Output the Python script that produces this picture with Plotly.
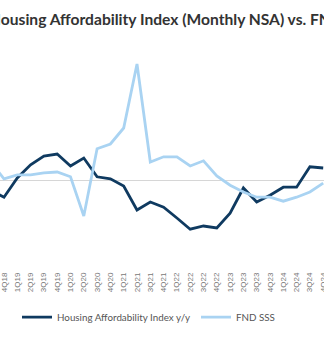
import plotly.graph_objects as go

# Quarter labels (3Q18 and 4Q24 sit at the edges of the visible window)
quarters = ["3Q18", "4Q18",
            "1Q19", "2Q19", "3Q19", "4Q19",
            "1Q20", "2Q20", "3Q20", "4Q20",
            "1Q21", "2Q21", "3Q21", "4Q21",
            "1Q22", "2Q22", "3Q22", "4Q22",
            "1Q23", "2Q23", "3Q23", "4Q23",
            "1Q24", "2Q24", "3Q24", "4Q24"]

# Housing Affordability Index, y/y change (%)
hai_yy = [-2.5, -4.3,
          0.5, 3.8, 6.0, 6.5,
          3.5, 5.5, 0.8, 0.3,
          -1.5, -7.5, -5.5, -6.8,
          -9.5, -12.3, -11.5, -12.0,
          -8.3, -2.0, -5.5, -3.8,
          -1.8, -1.8, 3.3, 3.0]

# FND same-store sales (%)
fnd_sss = [4.5, 0.3,
           1.3, 1.3, 1.8, 2.0,
           0.8, -9.0, 7.8, 9.0,
           13.0, 29.0, 4.5, 5.8,
           5.8, 3.5, 4.8, 1.0,
           -1.3, -3.0, -4.3, -4.3,
           -5.3, -4.3, -3.0, -0.8]

xpos = list(range(-1, len(quarters) - 1))

DARK = "#0f3a60"
LIGHT = "#a9d3f2"

fig = go.Figure()
fig.add_trace(go.Scatter(x=xpos, y=hai_yy, mode="lines",
                         name="Housing Affordability Index y/y",
                         line=dict(color=DARK, width=2.8), legend="legend"))
fig.add_trace(go.Scatter(x=xpos, y=fnd_sss, mode="lines",
                         name="FND SSS",
                         line=dict(color=LIGHT, width=2.8), legend="legend2"))

fig.add_annotation(text="<b>Housing Affordability Index (Monthly NSA) vs. FND SSS</b>",
                   xref="paper", yref="paper", x=-0.04, y=1.0,
                   xanchor="left", yanchor="bottom", yshift=10, showarrow=False,
                   font=dict(family="Lato", size=15.6, color="#333333"))

legend_font = dict(family="Lato", size=9.8, color="#555555")
fig.update_layout(
    width=324, height=344,
    margin=dict(l=0, r=0, t=40, b=78, autoexpand=False),
    paper_bgcolor="white", plot_bgcolor="white",
    showlegend=True,
    legend=dict(orientation="h", x=17 / 324, y=-0.162, xanchor="left", yanchor="top",
                font=legend_font, itemwidth=30, bgcolor="rgba(0,0,0,0)"),
    legend2=dict(orientation="h", x=196 / 324, y=-0.162, xanchor="left", yanchor="top",
                 font=legend_font, itemwidth=30, bgcolor="rgba(0,0,0,0)"),
)
fig.update_xaxes(range=[-0.3, 24.06], tickmode="array",
                 tickvals=xpos, ticktext=quarters, tickangle=-90,
                 tickfont=dict(family="Liberation Sans", size=8, color="#777777"),
                 ticklabeloverflow="allow", ticklabelstandoff=4, automargin=False,
                 showgrid=False, zeroline=False, showline=False, ticks="")
fig.update_yaxes(range=[-21.5, 35], showticklabels=False, showgrid=False,
                 zeroline=True, zerolinecolor="#d6d6d6", zerolinewidth=1,
                 showline=False, ticks="", automargin=False)

fig.write_html("out.html")
